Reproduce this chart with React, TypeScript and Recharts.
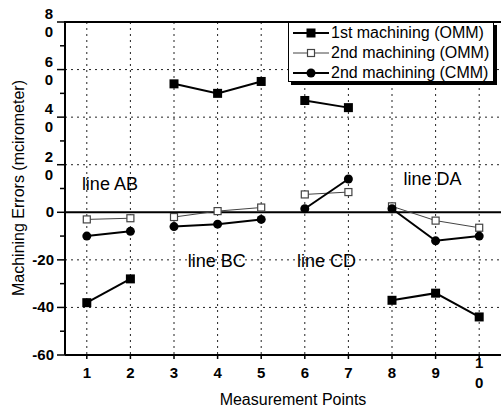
import {
  CartesianGrid,
  Line,
  LineChart,
  ReferenceDot,
  ReferenceLine,
  XAxis,
  YAxis,
} from "recharts";

// measurement points along the four edges of the part
const points = [1, 2, 3, 4, 5, 6, 7, 8, 9, 10];
const segments = ["AB", "AB", "BC", "BC", "BC", "CD", "CD", "DA", "DA", "DA"];
const segmentNames = ["AB", "BC", "CD", "DA"];

// machining errors, micrometer
const firstOMM = [-38, -28, 54, 50, 55, 47, 44, -37, -34, -44];
const secondOMM = [-3, -2.5, -2, 0.5, 2, 7.5, 8.5, 2.5, -3.5, -6.5];
const secondCMM = [-10, -8, -6, -5, -3, 1.5, 14, 1.5, -12, -10];

const yTicks = [-60, -50, -40, -30, -20, -10, 0, 10, 20, 30, 40, 50, 60, 70, 80];
const yGrid = [-40, -20, 20, 40, 60];

const W = 501;
const H = 412;
const PLOT_LEFT = 65;
const PLOT_TOP = 22;
const PLOT_BOTTOM = 355;
const FONT = "'Liberation Sans', Arial, sans-serif";

const rows = points.map((p, i) => ({
  x: p,
  seg: segments[i],
  first: firstOMM[i],
  second: secondOMM[i],
  cmm: secondCMM[i],
}));

const lineLabels = [
  { text: "line AB", x: 1.53, y: 12 },
  { text: "line BC", x: 3.98, y: -20.5 },
  { text: "line CD", x: 6.5, y: -20.5 },
  { text: "line DA", x: 8.93, y: 14 },
];

type Shape = "square" | "open" | "circle";

const SERIES: {
  key: "first" | "second" | "cmm";
  name: string;
  stroke: string;
  width: number;
  shape: Shape;
}[] = [
  { key: "second", name: "2nd machining (OMM)", stroke: "#444", width: 1, shape: "open" },
  { key: "cmm", name: "2nd machining (CMM)", stroke: "#000", width: 2, shape: "circle" },
  { key: "first", name: "1st machining (OMM)", stroke: "#000", width: 2, shape: "square" },
];

function Marker({ shape, cx, cy }: { shape: Shape; cx: number; cy: number }) {
  if (shape === "square")
    return <rect x={cx - 4.5} y={cy - 4.5} width={9} height={9} fill="#000" />;
  if (shape === "open")
    return (
      <rect x={cx - 3.5} y={cy - 3.5} width={7} height={7} fill="#fff" stroke="#444" strokeWidth={1.2} />
    );
  return <circle cx={cx} cy={cy} r={4.5} fill="#000" />;
}

const makeDot = (shape: Shape) => (p: any) => {
  const k = `${p.index}`;
  if (p.value == null || p.cx == null || p.cy == null) return <g key={k} />;
  return (
    <g key={k}>
      <Marker shape={shape} cx={p.cx} cy={p.cy} />
    </g>
  );
};

const tickText = {
  fontSize: 15,
  fontWeight: 700,
  fill: "#000",
  fontFamily: FONT,
};

function YTick(props: any) {
  const { y, payload } = props;
  const v = payload.value as number;
  const major = v % 20 === 0;
  const labelX = 54;
  return (
    <g>
      <line
        x1={PLOT_LEFT - (major ? 8 : 5)}
        x2={PLOT_LEFT}
        y1={y}
        y2={y}
        stroke="#000"
        strokeWidth={1.5}
      />
      {major && v > 0 && (
        <text x={labelX} y={y} textAnchor="end" style={tickText}>
          <tspan x={labelX - 1} dy={-3}>{String(v)[0]}</tspan>
          <tspan x={labelX - 1} dy={18}>0</tspan>
        </text>
      )}
      {major && v <= 0 && (
        <text x={labelX} y={y + 5} textAnchor="end" style={tickText}>
          {v}
        </text>
      )}
    </g>
  );
}

function XTick(props: any) {
  const { x, payload } = props;
  const v = payload.value as number;
  const axisY = PLOT_BOTTOM;
  return (
    <g>
      <line x1={x} x2={x} y1={axisY} y2={axisY + 4} stroke="#000" strokeWidth={1.5} />
      {v < 10 ? (
        <text x={x} y={axisY + 23} textAnchor="middle" style={tickText}>
          {v}
        </text>
      ) : (
        <text x={x} y={axisY + 13} textAnchor="middle" style={tickText}>
          <tspan x={x}>1</tspan>
          <tspan x={x} dy={20}>0</tspan>
        </text>
      )}
    </g>
  );
}

function LegendIcon({ shape }: { shape: Shape }) {
  const thin = shape === "open";
  return (
    <svg width={36} height={12} style={{ display: "block" }}>
      <line x1={0} x2={36} y1={6} y2={6} stroke={thin ? "#444" : "#000"} strokeWidth={thin ? 1 : 2} />
      <Marker shape={shape} cx={18} cy={6} />
    </svg>
  );
}

const legendOrder: Shape[] = ["square", "open", "circle"];

// pixel positions of the grid lines
const yPix = (v: number) => PLOT_TOP + ((80 - v) / 140) * (PLOT_BOTTOM - PLOT_TOP);
const xPix = (v: number) => PLOT_LEFT + ((v - 0.5) / 10) * (W - PLOT_LEFT);

export default function App() {
  return (
    <div
      style={{
        position: "fixed",
        left: 0,
        top: 0,
        width: W,
        height: H,
        overflow: "hidden",
        background: "#fff",
        fontFamily: FONT,
      }}
    >
      <LineChart width={W} height={H} data={rows} margin={{ top: PLOT_TOP, right: 0, bottom: 0, left: 0 }}>
        <CartesianGrid
          stroke="#222"
          strokeWidth={1}
          strokeDasharray="2 4"
          horizontalPoints={yGrid.map(yPix)}
          verticalPoints={points.map(xPix)}
        />
        <XAxis
          type="number"
          dataKey="x"
          domain={[0.5, 10.5]}
          ticks={points}
          interval={0}
          allowDataOverflow
          height={57}
          axisLine={{ stroke: "#000", strokeWidth: 2 }}
          tickLine={false}
          tick={<XTick />}
        />
        <YAxis
          type="number"
          domain={[-60, 80]}
          ticks={yTicks}
          interval={0}
          allowDataOverflow
          width={PLOT_LEFT}
          axisLine={{ stroke: "#000", strokeWidth: 2 }}
          tickLine={false}
          tick={<YTick />}
        />
        <ReferenceLine y={0} stroke="#000" strokeWidth={2} />
        {lineLabels.map((l) => (
          <ReferenceDot
            key={l.text}
            x={l.x}
            y={l.y}
            r={0}
            stroke="none"
            fill="none"
            label={{ value: l.text, position: "center", fontSize: 18, fill: "#000", fontFamily: FONT }}
          />
        ))}
        {SERIES.flatMap((s) =>
          segmentNames.map((seg) => (
            <Line
              key={`${s.key}-${seg}`}
              type="linear"
              name={s.name}
              dataKey={(r: any) => (r.seg === seg ? r[s.key] : null)}
              stroke={s.stroke}
              strokeWidth={s.width}
              dot={makeDot(s.shape)}
              activeDot={false}
              connectNulls={false}
              legendType="none"
              isAnimationActive={false}
            />
          ))
        )}
      </LineChart>

      {/* top frame line */}
      <div
        style={{
          position: "absolute",
          left: PLOT_LEFT - 1,
          top: PLOT_TOP - 1,
          width: W - PLOT_LEFT + 1,
          height: 2,
          background: "#000",
        }}
      />

      <div
        style={{
          position: "absolute",
          left: 288,
          top: 22,
          width: 200,
          height: 58,
          border: "1.5px solid #000",
          boxShadow: "3px 3px 0 #000",
          background: "#fff",
          paddingLeft: 4,
          fontSize: 16,
          lineHeight: "20px",
          color: "#000",
        }}
      >
        {legendOrder.map((shape) => {
          const s = SERIES.find((d) => d.shape === shape)!;
          return (
            <div key={s.key} style={{ display: "flex", alignItems: "center", height: 20 }}>
              <LegendIcon shape={shape} />
              <span style={{ marginLeft: 2, whiteSpace: "nowrap" }}>{s.name}</span>
            </div>
          );
        })}
      </div>

      <div
        style={{
          position: "absolute",
          left: 19,
          top: 188,
          transform: "translate(-50%, -50%) rotate(-90deg)",
          whiteSpace: "nowrap",
          fontSize: 16,
          color: "#000",
        }}
      >
        Machining Errors (mcirometer)
      </div>
      <div
        style={{
          position: "absolute",
          left: 293,
          top: 400,
          transform: "translate(-50%, -50%)",
          whiteSpace: "nowrap",
          fontSize: 16,
          color: "#000",
        }}
      >
        Measurement Points
      </div>
    </div>
  );
}
